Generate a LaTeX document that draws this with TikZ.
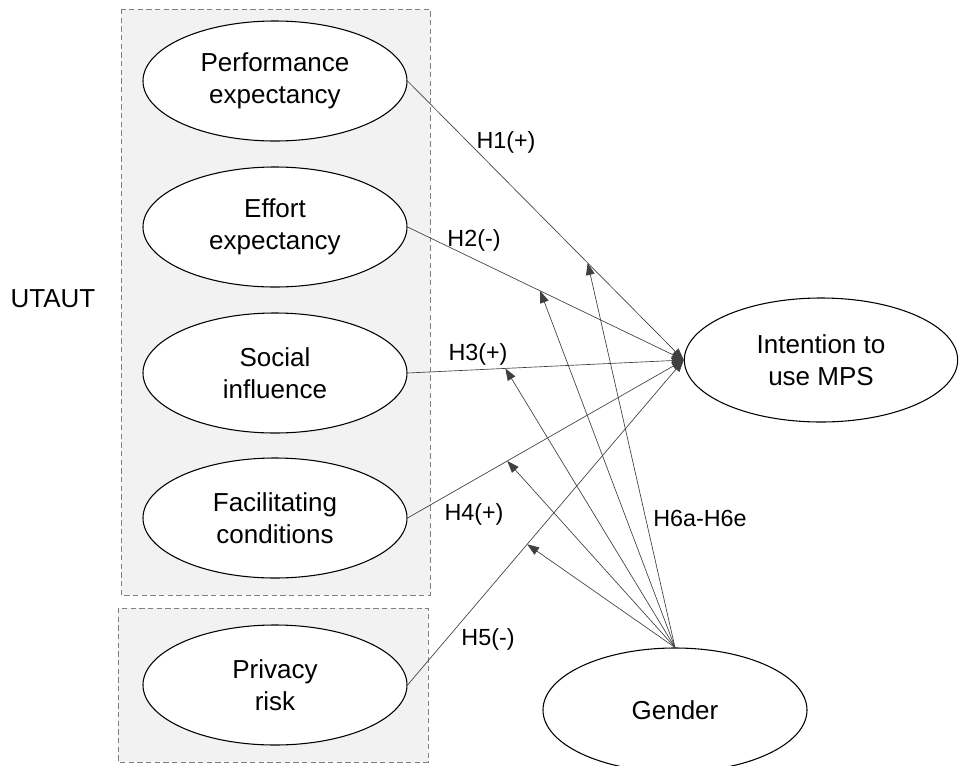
\documentclass[tikz,border=0pt]{standalone}
\usepackage{fontspec}
\setmainfont{Liberation Sans}
\usetikzlibrary{shapes,arrows.meta,positioning}

\tikzset{
  construct/.style={draw, line width=0.8pt, ellipse, fill=white, inner sep=0pt,
    minimum width=198pt, minimum height=90pt, align=center,
    font=\fontsize{19.5}{24}\selectfont},
  groupbox/.style={draw=gray, dash pattern=on 4pt off 2.5pt, fill=gray!10},
  hyp/.style={draw=black!75, line width=0.5pt, -{Triangle[length=9pt,width=6.5pt]}},
  hlabel/.style={font=\fontsize{17.5}{20}\selectfont}
}

\begin{document}
\begin{tikzpicture}[x=0.75pt, y=-0.75pt]
\useasboundingbox (0,0) rectangle (961,765);

% UTAUT and privacy boxes
\draw[groupbox] (121,9) rectangle (430,595);
\draw[groupbox] (118,608) rectangle (428,762);
\node[font=\fontsize{19.5}{22}\selectfont] (utaut) at (53,299) {UTAUT};

% constructs
\node[construct] (pe) at (275,81) {Performance\\expectancy};
\node[construct] (ee) at (275,227) {Effort\\expectancy};
\node[construct] (si) at (275,373) {Social\\influence};
\node[construct] (fc) at (275,518) {Facilitating\\conditions};
\node[construct] (pr) at (275,685) {Privacy\\risk};
\node[construct, minimum width=205pt, minimum height=93pt] (int) at (821,360) {Intention to\\use MPS};
\node[construct, minimum height=93pt] (gen) at (675,710) {Gender};

% direct effects
\draw[hyp] (pe.east) -- coordinate[pos=0.652] (m1) (int.west);
\draw[hyp] (ee.east) -- coordinate[pos=0.48] (m2) (int.west);
\draw[hyp] (si.east) -- coordinate[pos=0.354] (m3) (int.west);
\draw[hyp] (fc.east) -- coordinate[pos=0.361] (m4) (int.west);
\draw[hyp] (pr.east) -- coordinate[pos=0.433] (m5) (int.west);

% moderation by gender
\foreach \m in {m1,m2,m3,m4,m5}
  \draw[hyp] (gen.north) -- (\m);

% labels
\node[hlabel] (h1) at (506,142) {H1(+)};
\node[hlabel] (h2) at (474,240) {H2(-)};
\node[hlabel] (h3) at (478,354) {H3(+)};
\node[hlabel] (h4) at (474,514) {H4(+)};
\node[hlabel] (h5) at (488,639) {H5(-)};
\node[hlabel] (h6) at (700,518) {H6a-H6e};
\end{tikzpicture}
\end{document}
